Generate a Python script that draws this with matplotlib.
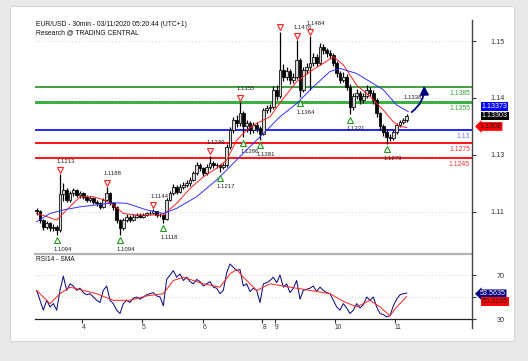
import matplotlib
matplotlib.use("Agg")
import matplotlib.pyplot as plt
import matplotlib.transforms as mtrans
from matplotlib.patches import Rectangle, FancyArrowPatch
from matplotlib.lines import Line2D

plt.rcParams['font.family'] = ['Liberation Sans', 'DejaVu Sans']

# ---------------- data ----------------
title_line1 = "EUR/USD - 30min - 03/11/2020 05:20:44 (UTC+1)"
title_line2 = "Research @ TRADING CENTRAL"
rsi_title = "RSI14 - SMA"

first_open = 1.1143
close = [1.1140, 1.1123, 1.1110, 1.1117, 1.1107, 1.1110, 1.1104, 1.1175, 1.1182, 1.1163,
         1.1176, 1.1182, 1.1172, 1.1176, 1.1169, 1.1163, 1.1166, 1.1159, 1.1156, 1.1149,
         1.1163, 1.1176, 1.1156, 1.1149, 1.1123, 1.1107, 1.1123, 1.1130, 1.1123, 1.1130,
         1.1133, 1.1130, 1.1133, 1.1136, 1.1136, 1.1140, 1.1133, 1.1133, 1.1126, 1.1163,
         1.1176, 1.1189, 1.1179, 1.1189, 1.1192, 1.1195, 1.1202, 1.1215, 1.1231, 1.1225,
         1.1215, 1.1228, 1.1235, 1.1231, 1.1231, 1.1228, 1.1231, 1.1267, 1.1300, 1.1320,
         1.1313, 1.1333, 1.1307, 1.1313, 1.1300, 1.1310, 1.1303, 1.1293, 1.1339, 1.1343,
         1.1346, 1.1379, 1.1366, 1.1418, 1.1405, 1.1415, 1.1398, 1.1405, 1.1438, 1.1379,
         1.1418, 1.1424, 1.1431, 1.1444, 1.1431, 1.1464, 1.1457, 1.1451, 1.1447, 1.1431,
         1.1411, 1.1398, 1.1405, 1.1385, 1.1346, 1.1366, 1.1372, 1.1359, 1.1366, 1.1379,
         1.1372, 1.1359, 1.1333, 1.1307, 1.1297, 1.1287, 1.1284, 1.1297, 1.1310, 1.1316,
         1.1320, 1.1328]
high = [1.1147, 1.1142, 1.1126, 1.1122, 1.1120, 1.1116, 1.1114, 1.1213, 1.1195, 1.1186,
        1.1180, 1.1187, 1.1185, 1.1181, 1.1179, 1.1172, 1.1170, 1.1168, 1.1162, 1.1159,
        1.1166, 1.1188, 1.1178, 1.1159, 1.1151, 1.1126, 1.1127, 1.1134, 1.1133, 1.1134,
        1.1137, 1.1136, 1.1137, 1.1139, 1.1141, 1.1144, 1.1141, 1.1137, 1.1135, 1.1166,
        1.1180, 1.1193, 1.1192, 1.1194, 1.1197, 1.1201, 1.1207, 1.1219, 1.1238, 1.1235,
        1.1228, 1.1233, 1.1249, 1.1240, 1.1236, 1.1234, 1.1235, 1.1272, 1.1306, 1.1326,
        1.1330, 1.1355, 1.1337, 1.1320, 1.1318, 1.1316, 1.1315, 1.1308, 1.1344, 1.1349,
        1.1352, 1.1386, 1.1388, 1.1493, 1.1430, 1.1424, 1.1420, 1.1412, 1.1476, 1.1442,
        1.1424, 1.1432, 1.1484, 1.1452, 1.1450, 1.1470, 1.1468, 1.1462, 1.1458, 1.1452,
        1.1435, 1.1416, 1.1413, 1.1410, 1.1390, 1.1372, 1.1380, 1.1376, 1.1372, 1.1388,
        1.1385, 1.1378, 1.1362, 1.1336, 1.1312, 1.1302, 1.1292, 1.1300, 1.1314, 1.1320,
        1.1324, 1.1332]
low = [1.1133, 1.1118, 1.1104, 1.1106, 1.1102, 1.1101, 1.1094, 1.1100, 1.1160, 1.1158,
       1.1158, 1.1170, 1.1168, 1.1167, 1.1164, 1.1158, 1.1159, 1.1154, 1.1150, 1.1145,
       1.1146, 1.1160, 1.1152, 1.1143, 1.1118, 1.1094, 1.1104, 1.1119, 1.1119, 1.1121,
       1.1127, 1.1127, 1.1128, 1.1131, 1.1133, 1.1134, 1.1130, 1.1129, 1.1118, 1.1124,
       1.1160, 1.1172, 1.1174, 1.1176, 1.1184, 1.1188, 1.1190, 1.1199, 1.1212, 1.1220,
       1.1210, 1.1212, 1.1224, 1.1226, 1.1226, 1.1217, 1.1224, 1.1228, 1.1262, 1.1295,
       1.1305, 1.1308, 1.1286, 1.1296, 1.1292, 1.1295, 1.1296, 1.1281, 1.1290, 1.1333,
       1.1336, 1.1342, 1.1358, 1.1362, 1.1396, 1.1398, 1.1390, 1.1392, 1.1400, 1.1364,
       1.1375, 1.1410, 1.1378, 1.1425, 1.1425, 1.1428, 1.1450, 1.1444, 1.1440, 1.1426,
       1.1405, 1.1392, 1.1394, 1.1378, 1.1331, 1.1340, 1.1360, 1.1352, 1.1354, 1.1362,
       1.1366, 1.1352, 1.1325, 1.1300, 1.1289, 1.1273, 1.1278, 1.1280, 1.1293, 1.1306,
       1.1312, 1.1316]

# moving averages (bar index, price)
ma_fast_idx = [0, 3, 6, 9, 13, 17, 20, 23, 26, 30, 34, 38, 42, 46, 50, 54, 57, 60, 63, 66,
               70, 74, 78, 82, 86, 89, 92, 96, 100, 104, 107, 109, 111]
ma_fast_val = [1.1136, 1.1130, 1.1123, 1.1143, 1.1169, 1.1169, 1.1163, 1.1153, 1.1136, 1.1133,
               1.1133, 1.1133, 1.1156, 1.1185, 1.1208, 1.1225, 1.1241, 1.1280, 1.1300, 1.1313,
               1.1326, 1.1362, 1.1395, 1.1415, 1.1431, 1.1444, 1.1428, 1.1388, 1.1366, 1.1339,
               1.1316, 1.1307, 1.1305]
ma_slow_idx = [0, 4, 8, 13, 18, 23, 27, 33, 38, 42, 48, 54, 58, 63, 68, 73, 78, 83, 88, 91,
               96, 100, 104, 108, 111.5]
ma_slow_val = [1.1120, 1.1136, 1.1143, 1.1149, 1.1153, 1.1157, 1.1156, 1.1143, 1.1136, 1.1146,
               1.1169, 1.1202, 1.1228, 1.1261, 1.1293, 1.1326, 1.1352, 1.1385, 1.1415, 1.1421,
               1.1411, 1.1395, 1.1379, 1.1349, 1.1336]

rsi = [56, 47, 38, 47, 41, 44, 38, 56, 69, 56, 62, 60, 56, 58, 54, 52, 53, 50, 47, 45,
       56, 60, 47, 44, 38, 35, 44, 47, 45, 49, 50, 48, 50, 52, 53, 54, 51, 50, 42, 66,
       70, 74, 68, 71, 65, 68, 64, 62, 66, 64, 60, 62, 64, 59, 58, 53, 56, 72, 80, 77,
       74, 75, 60, 62, 55, 58, 56, 45, 62, 63, 65, 68, 63, 70, 59, 62, 54, 58, 65, 48,
       56, 57, 58, 60, 55, 59, 56, 54, 53, 47, 41, 38, 44, 40, 35, 38, 44, 40, 43, 50,
       47, 50, 41, 35, 34, 32, 33, 42, 48, 52, 53, 53.56]
rsi_sma_idx = [0, 4, 7, 10, 14, 18, 23, 28, 33, 38, 41, 44, 50, 55, 58, 60, 62, 66, 70, 76,
               82, 88, 92, 96, 100, 103, 106, 108, 111]
rsi_sma_val = [56, 44, 53, 59, 56, 53, 47, 47, 51, 53, 65, 68, 62, 59, 71, 75, 68, 56, 62, 59,
               56, 53, 46, 41, 47, 41, 33, 41, 50.3]

levels = [1.1385, 1.1355, 1.13, 1.1275, 1.1245]
level_labels = ['1.1385', '1.1355', '1.13', '1.1275', '1.1245']

price_ticks = [1.1474, 1.1363, 1.1251, 1.1139]
price_tick_labels = ['1.15', '1.14', '1.13', '1.11']
rsi_ticks = [70, 50, 30]
rsi_tick_labels = ['70', '', '30']

day_labels = ['4', '5', '6', '8', '9', '10', '11']
day_pos = [13.5, 31.5, 49.8, 67.7, 71.5, 89.5, 107.5]

ph_idx = [7, 21, 35, 52, 61, 73, 78, 82]
ph_val = [1.1213, 1.1188, 1.1144, 1.1249, 1.1355, 1.1493, 1.1476, 1.1484]
ph_lab = ['1.1213', '1.1188', '1.1144', '1.1249', '1.1355', '', '1.1476', '1.1484']
pl_idx = [6, 25, 38, 55, 62, 67, 79, 94, 105]
pl_val = [1.1094, 1.1094, 1.1118, 1.1217, 1.1286, 1.1281, 1.1364, 1.1331, 1.1273]
pl_lab = ['1.1094', '1.1094', '1.1118', '1.1217', '1.1286', '1.1281', '1.1364', '1.1331', '1.1273']

target_label = '1.1338'
target_price = 1.1392
last_close_label = '1.13303'
slow_ma_label = '1.13373'
fast_ma_label = '1.1308'
rsi_label = '53.5635'
rsi_sma_label = '50.3165'

# ---------------- figure ----------------
W, H = 528, 361
fig = plt.figure(figsize=(W / 100, H / 100), dpi=100, facecolor='#e9e9e9')
fig.patches.append(Rectangle((10 / W, 1 - 341 / H), 504 / W, 335 / H, transform=fig.transFigure,
                             facecolor='white', edgecolor='#d6d6d6', lw=0.8, zorder=-5))

def fx(px):
    return px / W

def fy(py):
    return 1 - py / H

ax = fig.add_axes([fx(35), fy(254), fx(472) - fx(35), fy(20) - fy(254)])
ax2 = fig.add_axes([fx(35), fy(319), fx(472) - fx(35), fy(254) - fy(319)], sharex=ax)
for a in (ax, ax2):
    a.set_facecolor('none')
    for s in a.spines.values():
        s.set_visible(False)

ax.set_xlim(-0.5, 130.6)
ax.set_ylim(1.10564, 1.15161)
ax2.set_ylim(30, 89.1)

# gridlines
for t in price_ticks:
    ax.axhline(t, color='#c4c4c4', lw=0.6, ls=(0, (1, 3)))
for t in [70, 50]:
    ax2.axhline(t, color='#c4c4c4', lw=0.6, ls=(0, (1, 3)))

# levels
lvl_colors = ['#1f8f1f', '#3cb043', '#0000ff', '#ff0000', '#ff0000']
lvl_widths = [1.2, 2.2, 1.2, 1.3, 1.3]
lbl_colors = ['#33a033', '#33a033', '#6f6fff', '#ff3030', '#ff3030']
for v, lab, c, lw, lc in zip(levels, level_labels, lvl_colors, lvl_widths, lbl_colors):
    ax.axhline(v, color=c, lw=lw, zorder=2)
    ax.annotate(lab, xy=(1, v), xycoords=('axes fraction', 'data'), xytext=(-1.5, -2.2),
                textcoords='offset points', ha='right', va='top', fontsize=4.9, color=lc)

# candles
n = len(close)
x = list(range(n))
opens = [first_open] + close[:-1]
ax.vlines(x, low, high, color='black', lw=0.9, zorder=4)
bottoms = [min(o, c) for o, c in zip(opens, close)]
heights = [max(abs(c - o), 0.00008) for o, c in zip(opens, close)]
faces = ['#d8d8d8' if c >= o else 'black' for o, c in zip(opens, close)]
ax.bar(x, heights, bottom=bottoms, width=0.75, color=faces, edgecolor='black', lw=0.55, zorder=5)

# moving averages
ax.plot(ma_fast_idx, ma_fast_val, color='#ff2020', lw=0.7, zorder=6)
ax.plot(ma_slow_idx, ma_slow_val, color='#3030ff', lw=0.7, zorder=6)

# pivots
up_shift = ax.transData + mtrans.ScaledTranslation(0, 4.5 / 100, fig.dpi_scale_trans)
dn_shift = ax.transData + mtrans.ScaledTranslation(0, -5.5 / 100, fig.dpi_scale_trans)
for i, v, lab in zip(ph_idx, ph_val, ph_lab):
    ax.plot([i], [v], marker='v', ms=4.2, mfc='white', mec='#ff2020', mew=0.8,
            zorder=7, ls='none', transform=up_shift)
    if lab:
        ax.annotate(lab, xy=(i, v), xytext=(-2.2, 9.5), textcoords='offset points',
                    ha='left', va='center', fontsize=4.3, color='#222222')
for i, v, lab in zip(pl_idx, pl_val, pl_lab):
    ax.plot([i], [v], marker='^', ms=4.2, mfc='white', mec='#1f9a1f', mew=0.8,
            zorder=7, ls='none', transform=dn_shift)
    ax.annotate(lab, xy=(i, v), xytext=(-2.2, -10.5), textcoords='offset points',
                ha='left', va='center', fontsize=4.3, color='#222222')

# target arrow
arrow = FancyArrowPatch((n - 0.2, close[-1] + 0.0004), (116.2, target_price),
                        connectionstyle='arc3,rad=0.3', arrowstyle='-|>,head_length=5,head_width=2.6',
                        color='#000080', lw=1.3, zorder=8)
ax.add_patch(arrow)
ax.annotate(target_label, xy=(n - 2, 1.1363), ha='left', va='center', fontsize=4.3, color='#222222')

# titles
fig.text(fx(36), fy(25), title_line1, fontsize=4.85, va='center', ha='left', color='#111111')
fig.text(fx(36), fy(33), title_line2, fontsize=4.85, va='center', ha='left', color='#111111')
fig.text(fx(36), fy(259.5), rsi_title, fontsize=4.8, va='center', ha='left', color='#111111')

# right price axis
ax.yaxis.tick_right()
ax.set_yticks(price_ticks)
ax.set_yticklabels(price_tick_labels)
ax.tick_params(axis='y', direction='out', length=3, width=0.8, color='#333333', pad=20.5,
               labelsize=5.2, labelcolor='#333333')
for t in ax.get_yticklabels():
    t.set_horizontalalignment('right')
ax.tick_params(axis='x', bottom=False, labelbottom=False)

# RSI panel
ax2.plot(x, rsi, color='#101080', lw=0.75, zorder=5)
ax2.plot(rsi_sma_idx, rsi_sma_val, color='#ff2020', lw=0.7, zorder=6)
ax2.spines['top'].set_visible(True)
ax2.spines['top'].set_color('#b4b4b4')
ax2.spines['top'].set_linewidth(1.6)
ax2.spines['bottom'].set_visible(True)
ax2.spines['bottom'].set_color('#222222')
ax2.spines['bottom'].set_linewidth(0.9)
ax2.yaxis.tick_right()
ax2.set_yticks(rsi_ticks)
ax2.set_yticklabels(rsi_tick_labels)
ax2.tick_params(axis='y', direction='out', length=3, width=0.8, color='#333333', pad=20.5,
                labelsize=5.2, labelcolor='#333333')
for t in ax2.get_yticklabels():
    t.set_horizontalalignment('right')
ax2.set_xticks(day_pos)
ax2.set_xticklabels(day_labels)
ax2.tick_params(axis='x', direction='out', length=3, width=0.8, color='#333333', pad=0.5,
                labelsize=4.8, labelcolor='#333333')
for t in ax2.get_xticklabels():
    t.set_horizontalalignment('left')

# right vertical axis line
fig.add_artist(Line2D([fx(472), fx(472)], [fy(20), fy(328)], transform=fig.transFigure,
                      color='#444444', lw=1.0))

# value boxes
def box(a, text, y, dy, fc, tc, style='square', dx=7):
    a.annotate(text, xy=(1, y), xycoords=('axes fraction', 'data'), xytext=(dx, dy),
               textcoords='offset points', ha='left', va='center', fontsize=5.1, color=tc,
               bbox=dict(boxstyle=style + ',pad=0.12', fc=fc, ec='none'), zorder=10,
               annotation_clip=False)

box(ax, slow_ma_label, float(slow_ma_label), 3.0, '#0000ff', 'white')
box(ax, last_close_label, float(last_close_label), -1.0, 'black', 'white')
box(ax, fast_ma_label, float(fast_ma_label), -0.4, '#ff0000', '#222222', style='larrow', dx=5.5)
box(ax2, rsi_label, float(rsi_label), -0.5, '#000080', 'white', style='larrow', dx=5.5)
box(ax2, rsi_sma_label, float(rsi_sma_label), -3.5, '#ff0000', '#222222', dx=7)

fig.savefig('out.png', dpi=100, facecolor=fig.get_facecolor())
